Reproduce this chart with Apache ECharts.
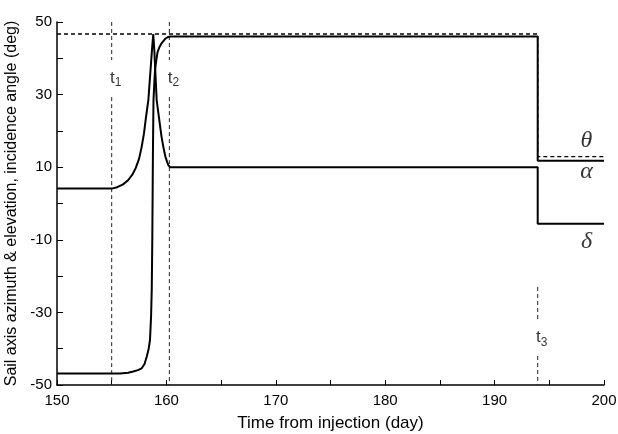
<!DOCTYPE html>
<html><head><meta charset="utf-8">
<script src="https://cdn.jsdelivr.net/npm/echarts@6/dist/echarts.min.js"></script>
<style>html,body{margin:0;padding:0;background:#fff}#c{width:618px;height:434px}</style>
</head><body><div id="c"></div>
<script>
// ---- data ----
const xMin = 150, xMax = 200, xStep = 10;
const yMin = -50, yMax = 50, yStep = 20;

// incidence angle theta (dashed)
const thetaDays = [150, 193.94, 193.94, 200];
const thetaVals = [46.7, 46.7, 12.9, 12.9];

// alpha (solid): from -46.8, rises steeply to ~46, drops to ~11.8 at t3
const alphaDays = [150, 155.76, 156.5, 156.97, 157.4, 157.74, 158.0, 158.2, 158.38, 158.5, 158.6, 158.66, 158.71, 158.77, 158.82, 158.9, 158.96, 159.08, 159.19, 159.38, 159.57, 159.87, 160.1, 160.33, 193.94, 193.94, 200];
const alphaVals = [-46.8, -46.8, -46.6, -46.3, -45.9, -45.4, -44.2, -42.2, -40.0, -37.6, -31.0, -23.8, -10.1, 14.7, 28.5, 33.5, 36.8, 39.5, 41.7, 43.2, 44.2, 45.3, 45.8, 46.0, 46.0, 11.8, 11.8];

// delta (solid): from 4.1, peaks ~46.7, settles at 10, drops to -5.6 at t3
const deltaDays = [150, 155.0, 155.5, 156.0, 156.5, 156.9, 157.2, 157.5, 157.74, 157.95, 158.14, 158.35, 158.55, 158.7, 158.8, 158.9, 159.0, 159.11, 159.35, 159.55, 159.72, 159.9, 160.05, 160.17, 160.33, 193.94, 193.94, 200];
const deltaVals = [4.1, 4.1, 4.5, 5.2, 6.4, 8.0, 9.8, 12.3, 15.6, 19.3, 23.9, 28.5, 36.8, 43.0, 46.7, 42.0, 35.5, 28.5, 23.0, 18.5, 15.6, 13.0, 11.6, 10.6, 10.0, 10.0, -5.6, -5.6];

// event markers t1, t2, t3 (vertical dashed lines with gaps for labels)
const eventDays = [155.0, 160.27, 193.94];
const eventSubs = ['1', '2', '3'];
const eventSegments = [
  [[50, 39.5], [29.3, -50]],
  [[50, 39.5], [29.3, -50]],
  [[-23, -32.1], [-42, -50]]
];
const eventLabelVals = [34.6, 34.6, -37.0];

// curve labels on the right
const curveNames = ['θ', 'α', 'δ'];
const curveLabelDay = 198.4;
const curveLabelVals = [17.2, 8.8, -10.4];

// ---- build ----
const zip = (a, b) => a.map((v, i) => [v, b[i]]);
const series = [];
series.push({type:'line', data: zip(thetaDays, thetaVals), symbol:'none', silent:true,
  lineStyle:{color:'#000', width:1.3, type:[4,3]}, z:3});
series.push({type:'line', data: zip(alphaDays, alphaVals), symbol:'none', silent:true,
  lineStyle:{color:'#000', width:2}, z:4});
series.push({type:'line', data: zip(deltaDays, deltaVals), symbol:'none', silent:true,
  lineStyle:{color:'#000', width:2}, z:4});
eventDays.forEach((d, i) => {
  eventSegments[i].forEach(seg => {
    series.push({type:'line', data: [[d, seg[0]], [d, seg[1]]], symbol:'none', silent:true,
      lineStyle:{color:'#222', width:1, type:[4,3]}, z:2});
  });
});
series.push({type:'scatter', symbolSize:0, silent:true, z:5,
  data: eventDays.map((d, i) => ({value:[d, eventLabelVals[i]], sub: eventSubs[i]})),
  label:{show:true, position:'inside', offset:[4,0],
    formatter: p => '{t|t}{s|' + p.data.sub + '}',
    rich:{t:{fontFamily:'Liberation Sans, Arial', fontSize:17, color:'#000'},
          s:{fontFamily:'Liberation Sans, Arial', fontSize:12, color:'#000', padding:[9,0,0,0]}}}
});
series.push({type:'scatter', symbolSize:0, silent:true, z:5,
  data: curveNames.map((n, i) => ({value:[curveLabelDay, curveLabelVals[i]], name:n})),
  label:{show:true, position:'inside', formatter: p => p.name,
    fontFamily:'Liberation Serif, Times New Roman, serif', fontStyle:'italic', fontSize:24, color:'#000'}
});

const tickFont = {fontFamily:'Liberation Sans, Arial', fontSize:15, color:'#000'};
const chart = echarts.init(document.getElementById('c'), null, {renderer:'canvas'});
chart.setOption({
  animation:false,
  backgroundColor:'#fff',
  grid:{left:57, right:14, top:22, bottom:49, containLabel:false, outerBoundsMode:'none'},
  xAxis:{type:'value', min:xMin, max:xMax, interval:xStep,
    name:'Time from injection (day)', nameLocation:'middle', nameGap:30,
    nameTextStyle:{fontFamily:'Liberation Sans, Arial', fontSize:17, color:'#000'},
    axisLine:{show:true, onZero:false, lineStyle:{color:'#000', width:1.5}},
    axisTick:{show:true, inside:true, length:5, lineStyle:{color:'#000', width:1}},
    minorTick:{show:true, splitNumber:2, length:5, lineStyle:{color:'#000', width:1}},
    axisLabel:{...tickFont, margin:8},
    splitLine:{show:false}},
  yAxis:{type:'value', min:yMin, max:yMax, interval:yStep,
    name:'Sail axis azimuth & elevation, incidence angle (deg)', nameLocation:'middle', nameGap:30,
    nameTextStyle:{fontFamily:'Liberation Sans, Arial', fontSize:16, color:'#000'},
    axisLine:{show:true, onZero:false, lineStyle:{color:'#000', width:1.5}},
    axisTick:{show:true, inside:true, length:6, lineStyle:{color:'#000', width:1}},
    minorTick:{show:true, splitNumber:2, length:6, lineStyle:{color:'#000', width:1}},
    axisLabel:{...tickFont, margin:5},
    splitLine:{show:false}},
  series: series
});
</script></body></html>
